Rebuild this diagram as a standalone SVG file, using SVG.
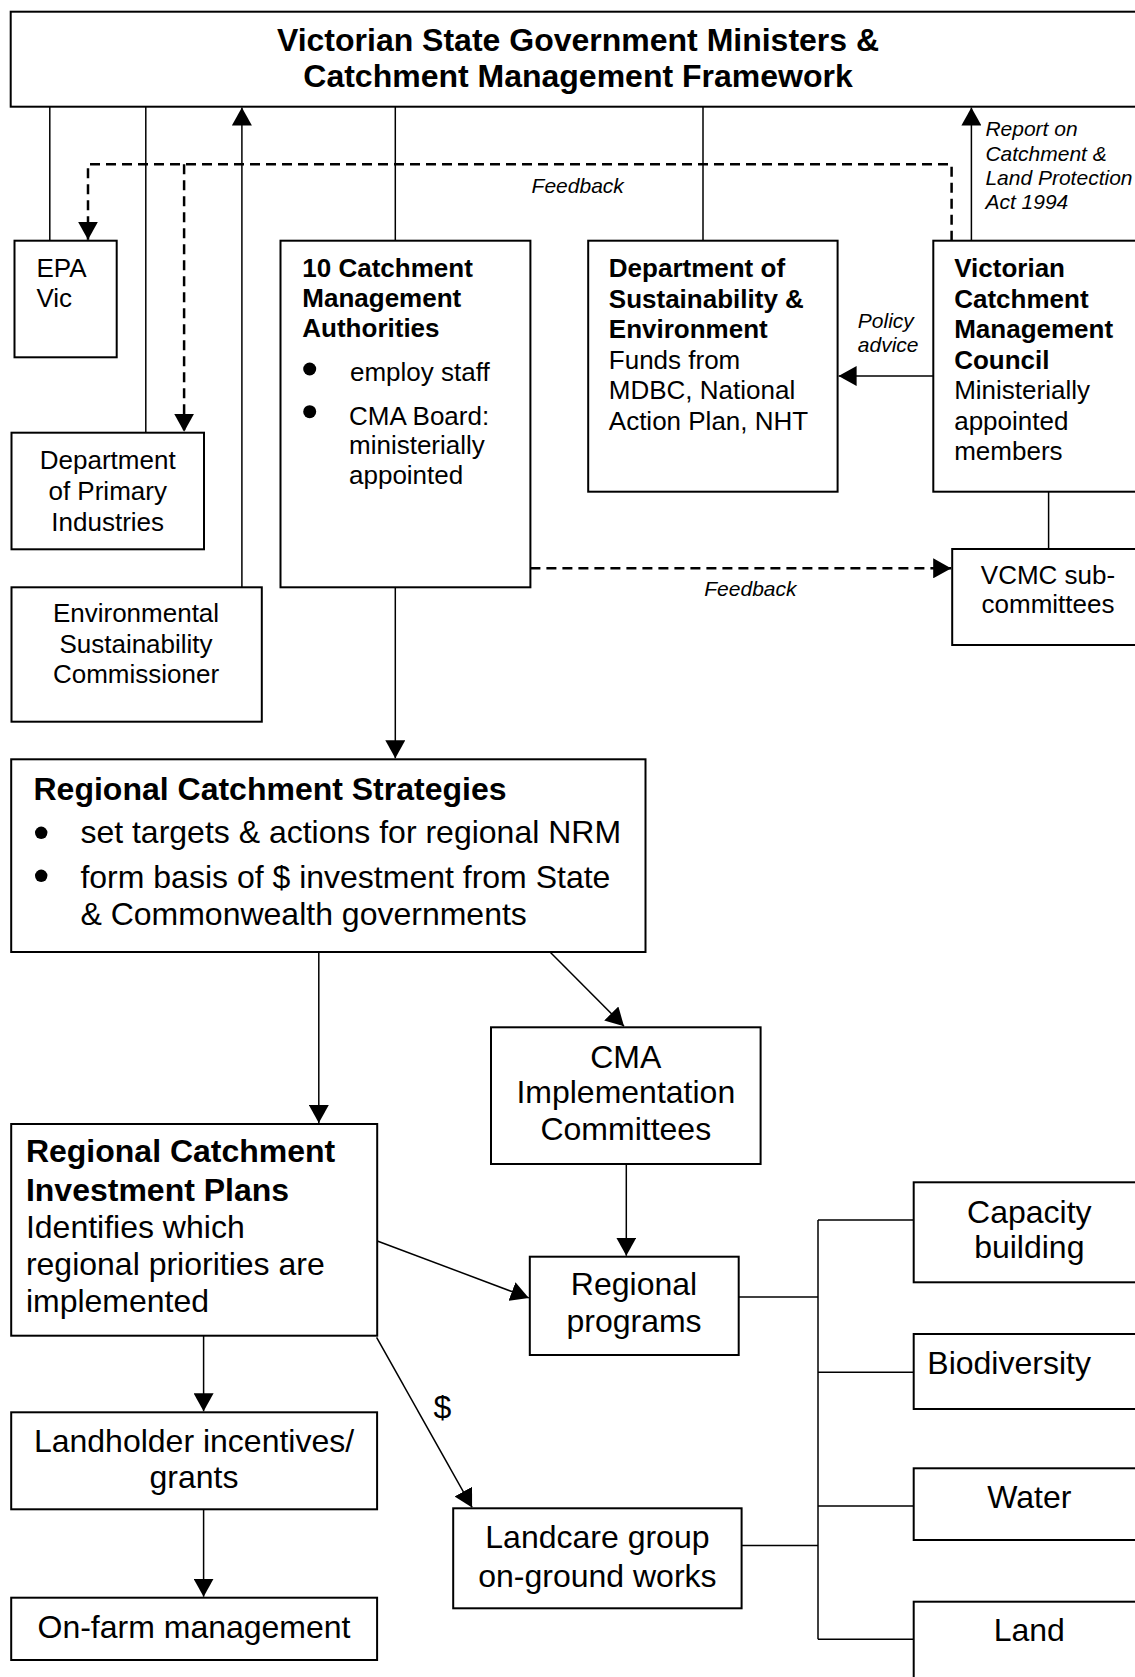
<svg xmlns="http://www.w3.org/2000/svg" width="1135" height="1677" viewBox="0 0 1135 1677">
<style>
.box{fill:#fff;stroke:#000;stroke-width:2}
.ln{fill:none;stroke:#000;stroke-width:1.5}
.dash{fill:none;stroke:#000;stroke-width:2.5;stroke-dasharray:10 6}
text{font-family:"Liberation Sans",Arial,Helvetica,sans-serif;fill:#000}
.b{font-weight:bold}
.s26{font-size:26px}
.s32{font-size:32px}
.it{font-style:italic;font-size:21px}
.c{text-anchor:middle}
</style>
<defs>
<marker id="ah" markerUnits="userSpaceOnUse" markerWidth="18" markerHeight="20" refX="18" refY="10" orient="auto">
<path d="M0,0 L18,10 L0,20 z" fill="#000"/>
</marker>
</defs>
<rect width="1135" height="1677" fill="#fff"/>

<g id="connectors">
<line class="ln" x1="49.8" y1="106.7" x2="49.8" y2="240.7"/>
<line class="ln" x1="145.8" y1="106.7" x2="145.8" y2="432.7"/>
<line class="ln" x1="241.9" y1="587.3" x2="241.9" y2="107.5" marker-end="url(#ah)"/>
<line class="ln" x1="395.3" y1="106.7" x2="395.3" y2="240.7"/>
<line class="ln" x1="703" y1="106.7" x2="703" y2="240.7"/>
<line class="ln" x1="971.4" y1="240.7" x2="971.4" y2="107.5" marker-end="url(#ah)"/>
<path class="dash" d="M951.6,240.7 V164.3 H88 V239.7" marker-end="url(#ah)"/>
<path class="dash" d="M184.1,164.3 V431.7" marker-end="url(#ah)"/>
<line class="ln" x1="933.3" y1="376" x2="838.6" y2="376" marker-end="url(#ah)"/>
<line class="ln" x1="1048.6" y1="491.7" x2="1048.6" y2="549"/>
<path class="dash" d="M530.4,568.3 H951.2" marker-end="url(#ah)"/>
<line class="ln" x1="395.3" y1="587.3" x2="395.3" y2="758.3" marker-end="url(#ah)"/>
<line class="ln" x1="318.8" y1="952" x2="318.8" y2="1123" marker-end="url(#ah)"/>
<line class="ln" x1="550" y1="952" x2="624" y2="1026.3" marker-end="url(#ah)"/>
<line class="ln" x1="626.3" y1="1164" x2="626.3" y2="1255.7" marker-end="url(#ah)"/>
<line class="ln" x1="376.6" y1="1240.7" x2="528.8" y2="1297.9" marker-end="url(#ah)"/>
<line class="ln" x1="376.6" y1="1337.3" x2="472.1" y2="1507.4" marker-end="url(#ah)"/>
<line class="ln" x1="203.6" y1="1335.7" x2="203.6" y2="1411.3" marker-end="url(#ah)"/>
<line class="ln" x1="203.6" y1="1509.3" x2="203.6" y2="1596.7" marker-end="url(#ah)"/>
<text class="s32" x="433.5" y="1418.3">$</text>
<line class="ln" x1="738.7" y1="1297" x2="818" y2="1297"/>
<line class="ln" x1="741.6" y1="1545.5" x2="818" y2="1545.5"/>
<line class="ln" x1="818" y1="1220" x2="818" y2="1639.3"/>
<line class="ln" x1="818" y1="1220" x2="913.7" y2="1220"/>
<line class="ln" x1="818" y1="1372.3" x2="913.7" y2="1372.3"/>
<line class="ln" x1="818" y1="1506" x2="913.7" y2="1506"/>
<line class="ln" x1="818" y1="1639.3" x2="913.7" y2="1639.3"/>
<text class="it" x="531.6" y="193">Feedback</text>
<text class="it" x="704.3" y="596">Feedback</text>
<text class="it" x="857.8" y="328.3">Policy</text>
<text class="it" x="857.8" y="351.7">advice</text>
<text class="it" x="985.4" y="136">Report on</text>
<text class="it" x="985.4" y="160.5">Catchment &amp;</text>
<text class="it" x="985.4" y="184.5">Land Protection</text>
<text class="it" x="985.4" y="208.5">Act 1994</text>
</g>

<g id="top">
<rect class="box" x="10.7" y="11.7" width="1150" height="95"/>
<text class="b s32 c" x="578" y="50.7">Victorian State Government Ministers &amp;</text>
<text class="b s32 c" x="578" y="87.3">Catchment Management Framework</text>
</g>

<g id="epa">
<rect class="box" x="14.5" y="240.7" width="102.2" height="116.6"/>
<text class="s26" x="36.4" y="277.3">EPA</text>
<text class="s26" x="36.4" y="307.3">Vic</text>
</g>

<g id="dpi">
<rect class="box" x="11.5" y="432.7" width="192.5" height="116.6"/>
<text class="s26 c" x="107.7" y="469">Department</text>
<text class="s26 c" x="107.7" y="500">of Primary</text>
<text class="s26 c" x="107.7" y="530.7">Industries</text>
</g>

<g id="esc">
<rect class="box" x="11.5" y="587.3" width="250.3" height="134.4"/>
<text class="s26 c" x="136" y="622.3">Environmental</text>
<text class="s26 c" x="136" y="653.3">Sustainability</text>
<text class="s26 c" x="136" y="683.3">Commissioner</text>
</g>

<g id="cma">
<rect class="box" x="280.5" y="240.7" width="249.9" height="346.6"/>
<text class="b s26" x="302.3" y="277.3">10 Catchment</text>
<text class="b s26" x="302.3" y="307.3">Management</text>
<text class="b s26" x="302.3" y="336.7">Authorities</text>
<circle cx="309.7" cy="369" r="6.5"/>
<text class="s26" x="350" y="381">employ staff</text>
<circle cx="309.7" cy="411.7" r="6.5"/>
<text class="s26" x="349" y="425"> CMA Board:</text>
<text class="s26" x="349" y="454">ministerially</text>
<text class="s26" x="349" y="484">appointed</text>
</g>

<g id="dse">
<rect class="box" x="588.2" y="240.7" width="249.4" height="251"/>
<text class="b s26" x="608.8" y="277">Department of</text>
<text class="b s26" x="608.8" y="307.6">Sustainability &amp;</text>
<text class="b s26" x="608.8" y="338">Environment</text>
<text class="s26" x="608.8" y="368.5">Funds from</text>
<text class="s26" x="608.8" y="399">MDBC, National</text>
<text class="s26" x="608.8" y="429.7">Action Plan, NHT</text>
</g>

<g id="vcmc">
<rect class="box" x="933.3" y="240.7" width="230" height="251"/>
<text class="b s26" x="954.2" y="277">Victorian</text>
<text class="b s26" x="954.2" y="307.6">Catchment</text>
<text class="b s26" x="954.2" y="338">Management</text>
<text class="b s26" x="954.2" y="368.5">Council</text>
<text class="s26" x="954.2" y="399">Ministerially</text>
<text class="s26" x="954.2" y="429.7">appointed</text>
<text class="s26" x="954.2" y="460">members</text>
</g>

<g id="vcmc-sub">
<rect class="box" x="952.2" y="549" width="210" height="96"/>
<text class="s26 c" x="1048" y="584">VCMC sub-</text>
<text class="s26 c" x="1048" y="613.3">committees</text>
</g>

<g id="rcs">
<rect class="box" x="11.2" y="759.3" width="634.3" height="192.7"/>
<text class="b s32" x="33.5" y="800">Regional Catchment Strategies</text>
<circle cx="41.2" cy="832.8" r="6.2"/>
<text class="s32" x="80.4" y="843.3">set targets &amp; actions for regional NRM</text>
<circle cx="41.2" cy="875.8" r="6.2"/>
<text class="s32" x="80.4" y="888.3">form basis of $ investment from State</text>
<text class="s32" x="80.4" y="925">&amp; Commonwealth governments</text>
</g>

<g id="cmaic">
<rect class="box" x="491" y="1027.3" width="269.6" height="136.7"/>
<text class="s32 c" x="625.8" y="1068.3">CMA</text>
<text class="s32 c" x="625.8" y="1103.3">Implementation</text>
<text class="s32 c" x="625.8" y="1140">Committees</text>
</g>

<g id="rcip">
<rect class="box" x="11.2" y="1124" width="366" height="211.7"/>
<text class="b s32" x="25.9" y="1161.7">Regional Catchment</text>
<text class="b s32" x="25.9" y="1200.7">Investment Plans</text>
<text class="s32" x="25.9" y="1238.3">Identifies which</text>
<text class="s32" x="25.9" y="1275">regional priorities are</text>
<text class="s32" x="25.9" y="1311.7">implemented</text>
</g>

<g id="rp">
<rect class="box" x="529.8" y="1256.7" width="208.9" height="98.3"/>
<text class="s32 c" x="634" y="1295">Regional</text>
<text class="s32 c" x="634" y="1331.7">programs</text>
</g>

<g id="landholder">
<rect class="box" x="11.2" y="1412.3" width="365.9" height="97"/>
<text class="s32 c" x="194" y="1451.7">Landholder incentives/</text>
<text class="s32 c" x="194" y="1488.3">grants</text>
</g>

<g id="onfarm">
<rect class="box" x="11.2" y="1597.7" width="365.9" height="62.3"/>
<text class="s32 c" x="194" y="1638.3">On-farm management</text>
</g>

<g id="landcare">
<rect class="box" x="453.2" y="1508.3" width="288.4" height="100"/>
<text class="s32 c" x="597.4" y="1548.3">Landcare group</text>
<text class="s32 c" x="597.4" y="1586.7">on-ground works</text>
</g>

<g id="capacity">
<rect class="box" x="913.7" y="1182.3" width="240" height="100"/>
<text class="s32 c" x="1029.3" y="1222.7">Capacity</text>
<text class="s32 c" x="1029.3" y="1258.3">building</text>
</g>

<g id="biodiversity">
<rect class="box" x="913.7" y="1334" width="240" height="75"/>
<text class="s32" x="927.3" y="1374">Biodiversity</text>
</g>

<g id="water">
<rect class="box" x="913.7" y="1468.3" width="240" height="71.7"/>
<text class="s32 c" x="1029.3" y="1508.3">Water</text>
</g>

<g id="land">
<rect class="box" x="913.7" y="1601.7" width="240" height="100"/>
<text class="s32 c" x="1029.3" y="1641">Land</text>
</g>
</svg>
